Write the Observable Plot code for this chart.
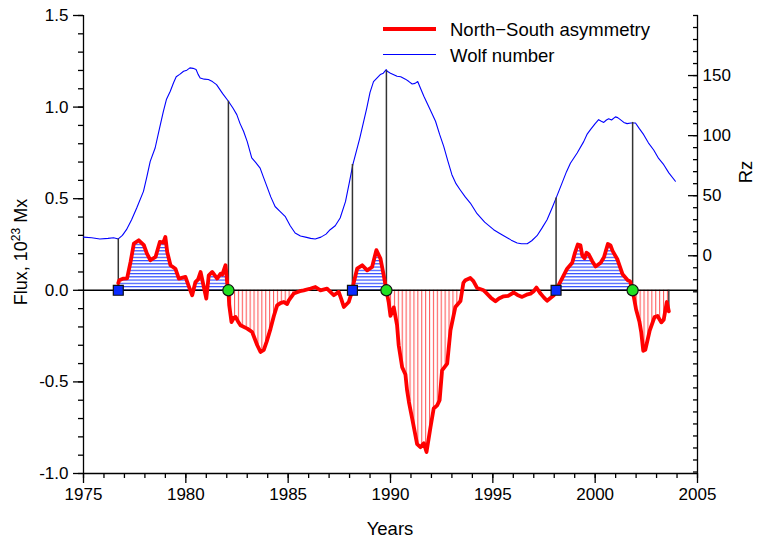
<!DOCTYPE html>
<html>
<head>
<meta charset="utf-8">
<script src="https://cdn.jsdelivr.net/npm/d3@7"></script>
<script src="https://cdn.jsdelivr.net/npm/@observablehq/plot@0.6"></script>
<style>
  html, body { margin: 0; padding: 0; background: white; }
  #chart svg { display: block; }
</style>
</head>
<body>
<div id="chart"></div>
<script>
// ---------- data ----------
// North–South asymmetry of magnetic flux (10^23 Mx)
const fluxYears = [
  1976.70,1976.75,1976.95,1977.13,1977.30,1977.46,1977.70,1977.95,1978.10,1978.27,
  1978.52,1978.73,1978.90,1979.00,1979.09,1979.25,1979.49,1979.66,1979.98,1980.15,
  1980.31,1980.47,1980.60,1980.72,1980.88,1981.00,1981.12,1981.29,1981.53,1981.70,
  1981.78,1981.94,1982.03,1982.08,1982.12,1982.23,1982.35,1982.43,1982.55,1982.67,
  1983.00,1983.24,1983.49,1983.65,1983.81,1983.95,1984.14,1984.30,1984.46,1984.62,
  1984.79,1984.95,1985.03,1985.27,1985.57,1985.76,1986.10,1986.33,1986.58,1986.90,
  1987.23,1987.47,1987.60,1987.72,1987.96,1988.14,1988.20,1988.37,1988.62,1988.86,
  1989.10,1989.31,1989.51,1989.67,1989.80,1989.91,1990.00,1990.16,1990.32,1990.40,
  1990.57,1990.73,1990.81,1990.90,1991.06,1991.30,1991.46,1991.63,1991.76,1991.95,
  1992.11,1992.28,1992.40,1992.52,1992.77,1992.93,1993.17,1993.42,1993.56,1993.66,
  1993.90,1994.05,1994.23,1994.55,1994.64,1994.90,1995.13,1995.30,1995.53,1995.75,
  1996.02,1996.20,1996.43,1996.70,1996.84,1997.00,1997.13,1997.33,1997.50,1997.65,
  1997.98,1998.09,1998.22,1998.38,1998.63,1998.88,1999.00,1999.15,1999.28,1999.37,
  1999.48,1999.58,1999.69,1999.85,2000.02,2000.27,2000.43,2000.62,2000.75,2000.85,
  2001.09,2001.34,2001.59,2001.70,2001.83,2002.00,2002.16,2002.25,2002.35,2002.45,
  2002.66,2002.90,2003.05,2003.23,2003.35,2003.50,2003.60
];
const fluxValues = [
  0.04,0.055,0.064,0.065,0.155,0.255,0.273,0.246,0.20,0.164,
  0.182,0.264,0.26,0.291,0.209,0.137,0.118,0.064,0.073,0.02,
  -0.027,0.045,0.06,0.10,0.018,-0.045,0.082,0.10,0.064,0.091,
  0.085,0.137,0.03,0,-0.082,-0.173,-0.15,-0.146,-0.17,-0.191,
  -0.209,-0.228,-0.30,-0.337,-0.325,-0.28,-0.209,-0.14,-0.082,-0.07,
  -0.064,-0.075,-0.055,-0.018,-0.005,0,0.01,0.018,0.0,0.009,
  -0.027,-0.009,-0.05,-0.091,-0.064,0,0.04,0.118,0.137,0.109,
  0.127,0.219,0.173,0.082,0,-0.064,-0.14,-0.093,-0.19,-0.30,
  -0.42,-0.46,-0.546,-0.61,-0.70,-0.84,-0.856,-0.835,-0.883,-0.75,
  -0.645,-0.628,-0.60,-0.437,-0.40,-0.219,-0.091,-0.058,0.04,0.055,
  0.067,0.05,0.013,0,-0.01,-0.04,-0.06,-0.045,-0.033,-0.03,
  -0.012,-0.025,-0.036,-0.022,-0.018,-0.005,0.015,-0.018,-0.04,-0.057,
  -0.027,0,0.03,0.064,0.118,0.15,0.20,0.25,0.245,0.19,
  0.175,0.205,0.195,0.16,0.13,0.15,0.18,0.253,0.245,0.215,
  0.168,0.087,0.055,0.05,0,-0.105,-0.17,-0.228,-0.33,-0.325,
  -0.222,-0.146,-0.14,-0.175,-0.16,-0.064,-0.115
];

// Smoothed Wolf number Rz
const wolfYears = [
  1975.0,1975.4,1975.8,1976.2,1976.47,1976.7,1976.9,1977.1,1977.35,1977.6,
  1977.93,1978.1,1978.26,1978.5,1978.7,1978.9,1979.05,1979.24,1979.4,1979.53,
  1979.7,1979.89,1980.05,1980.2,1980.35,1980.5,1980.6,1980.7,1980.9,1981.1,
  1981.3,1981.5,1981.8,1982.08,1982.3,1982.49,1982.65,1982.82,1983.0,1983.22,
  1983.4,1983.63,1983.8,1983.96,1984.15,1984.36,1984.6,1984.85,1985.1,1985.34,
  1985.6,1985.9,1986.1,1986.32,1986.6,1986.85,1987.05,1987.3,1987.54,1987.8,
  1988.0,1988.16,1988.5,1988.84,1989.0,1989.17,1989.5,1989.65,1989.79,1989.84,
  1990.0,1990.32,1990.5,1990.73,1990.9,1991.06,1991.2,1991.33,1991.45,1991.63,
  1991.9,1992.2,1992.4,1992.6,1992.8,1993.0,1993.2,1993.4,1993.65,1993.9,
  1994.23,1994.6,1995.04,1995.3,1995.53,1995.9,1996.19,1996.4,1996.68,1996.9,
  1997.16,1997.4,1997.65,1997.9,1998.09,1998.38,1998.6,1998.79,1999.12,1999.44,
  1999.6,1999.77,2000.0,2000.17,2000.3,2000.42,2000.55,2000.66,2000.8,2000.99,
  2001.1,2001.23,2001.4,2001.56,2001.75,2001.97,2002.15,2002.37,2002.6,2002.86,
  2003.1,2003.35,2003.6,2003.92
];
const wolfRz = [
  15.5,15,14,14.5,15,14,17,21.7,30,39.7,
  53.6,66,78.6,89.7,105,120,130,137,144,149,
  151,153.6,154.5,156.4,156,155,151,148,147,146.7,
  145,142.5,135,128.6,123,117.5,110,103.6,95,81.4,
  78,73,65,57.8,49,41,37,32.8,25,19,
  16.5,15.3,14.5,14,15.5,18,21.7,25,31.4,45,
  62,75.8,98,123,136,145,150.8,152,155,153.6,
  152,149.4,149,147,145,143,143.5,145,140,132.8,
  123,112,101,91,79,67.5,60,55,49,43.9,
  35,28,21.7,19,16.7,13,10.6,10,10,12.5,
  16.7,23,30,40,48,60.5,70,77,85.6,95,
  101,105,110,113.3,112,111,113,114,113,115.6,
  115,113.3,111,110,110.5,110.5,106,100.8,94,88,
  81,75.8,69,62
];

// Cycle markers: start of N-dominance (square) / reversal to S (circle)
const eventYears = [1976.7, 1982.08, 1988.14, 1989.8, 1998.09, 2001.83];
const eventRz    = [14, 128.6, 76, 154, 48, 111];
const eventKinds = ["square", "circle", "square", "circle", "square", "circle"];

// Hatched intervals
const northIntervals = [[1976.7, 1982.08], [1988.14, 1989.8], [1998.09, 2001.83]];
const southIntervals = [[1982.08, 1985.6], [1989.8, 1993.5], [2001.83, 2003.6]];

// Axis ticks
const xMajorTicks = [1975, 1980, 1985, 1990, 1995, 2000, 2005];
const yMajorTicks = [-1.0, -0.5, 0.0, 0.5, 1.0, 1.5];
const rzMajorTicks = [0, 50, 100, 150];

const legendLabels = ["North\u2212South asymmetry", "Wolf number"];

// ---------- helpers ----------
// Right axis (Rz) linear mapping onto the flux axis
const rzToFlux = r => 1.5 - (200 - r) / 152.5;
const fluxToRz = f => (f - 1.5) * 152.5 + 200;

const flux = fluxYears.map((year, i) => ({year, v: fluxValues[i]}));
const wolf = wolfYears.map((year, i) => ({year, rz: wolfRz[i]}));
const events = eventYears.map((year, i) => ({year, rz: eventRz[i], kind: eventKinds[i]}));

function segs(intervals, clampFn) {
  const out = [];
  intervals.forEach(([a, b], k) => {
    flux.filter(d => d.year >= a - 1e-9 && d.year <= b + 1e-9)
        .forEach(d => out.push({year: d.year, v: clampFn(d.v), seg: k}));
  });
  return out;
}
const northArea = segs(northIntervals, v => Math.max(v, 0));
const southArea = segs(southIntervals, v => Math.min(v, 0));

const xMinor = d3.range(1975, 2006, 1);
const yMinor = d3.range(-10, 16).map(d => d / 10);
const rzMinor = d3.range(-180, 201, 10);

const last = flux[flux.length - 1];

const chart = Plot.plot({
  width: 757,
  height: 542,
  marginLeft: 83,
  marginRight: 60,
  marginTop: 15,
  marginBottom: 69,
  x: {domain: [1975, 2005]},
  y: {domain: [-1, 1.5]},
  style: {fontFamily: "'Liberation Sans', Arial, sans-serif", fontSize: "17px", color: "black", background: "white"},
  marks: [
    // hatched areas
    Plot.areaY(northArea, {x: "year", y1: 0, y2: "v", z: "seg", fill: "url(#hatchN)", curve: "linear"}),
    Plot.areaY(southArea, {x: "year", y1: 0, y2: "v", z: "seg", fill: "url(#hatchS)", curve: "linear"}),
    // x axis
    Plot.axisX(xMajorTicks, {tickSize: 10, tickPadding: 4, tickFormat: d => String(d), label: null, stroke: "black", fill: "black", strokeWidth: 1.3}),
    Plot.axisX(xMinor, {tickSize: 5, fill: "none", label: null, stroke: "black", strokeWidth: 1.3}),
    // left y axis
    Plot.axisY(yMajorTicks, {tickSize: 10, tickPadding: 5, tickFormat: d => d.toFixed(1), label: null, stroke: "black", fill: "black", strokeWidth: 1.3}),
    Plot.axisY(yMinor, {tickSize: 5, fill: "none", label: null, stroke: "black", strokeWidth: 1.3}),
    // right Rz axis (ticks inward)
    Plot.axisY(rzMajorTicks.map(rzToFlux), {anchor: "right", tickSize: 0, tickPadding: 5, tickFormat: d => String(Math.round(fluxToRz(d))), label: null, fill: "black"}),
    Plot.axisY(rzMajorTicks.map(rzToFlux), {anchor: "right", tickSize: 10, dx: -10, fill: "none", label: null, stroke: "black", strokeWidth: 1.3}),
    Plot.axisY(rzMinor.map(rzToFlux), {anchor: "right", tickSize: 5, dx: -5, fill: "none", label: null, stroke: "black", strokeWidth: 1.3}),
    // frame lines
    Plot.ruleX([1975, 2005], {stroke: "black", strokeWidth: 1.3}),
    Plot.ruleY([-1], {stroke: "black", strokeWidth: 1.3}),
    Plot.ruleY([0], {stroke: "black", strokeWidth: 1.4}),
    // Wolf number
    Plot.line(wolf, {x: "year", y: d => rzToFlux(d.rz), stroke: "#0000ff", strokeWidth: 1.1}),
    // vertical markers
    Plot.ruleX(events, {x: "year", y1: 0, y2: d => rzToFlux(d.rz), stroke: "#333", strokeWidth: 1.5}),
    Plot.ruleX([last], {x: "year", y1: 0, y2: "v", stroke: "#222", strokeWidth: 1.3}),
    // asymmetry
    Plot.line(flux, {x: "year", y: "v", stroke: "#ff0000", strokeWidth: 3.8, strokeLinejoin: "round", strokeLinecap: "round"}),
    // markers
    Plot.dot(events.filter(d => d.kind === "square"), {x: "year", y: 0, symbol: "square", r: 5.6, fill: "#0a2bff", stroke: "#111", strokeWidth: 1.2}),
    Plot.dot(events.filter(d => d.kind === "circle"), {x: "year", y: 0, r: 5.6, fill: "#22e022", stroke: "#111", strokeWidth: 1.2})
  ]
});

const svg = d3.select(chart);
const defs = svg.insert("defs", ":first-child");
const pN = defs.append("pattern").attr("id", "hatchN").attr("patternUnits", "userSpaceOnUse")
  .attr("width", 8).attr("height", 3.25);
pN.append("line").attr("x1", 0).attr("x2", 8).attr("y1", 0.6).attr("y2", 0.6)
  .attr("stroke", "#1e3cff").attr("stroke-width", 1.1);
const pS = defs.append("pattern").attr("id", "hatchS").attr("patternUnits", "userSpaceOnUse")
  .attr("width", 3.9).attr("height", 8);
pS.append("line").attr("x1", 0.6).attr("x2", 0.6).attr("y1", 0).attr("y2", 8)
  .attr("stroke", "#ff4a4a").attr("stroke-width", 1);

const font = "'Liberation Sans', Arial, sans-serif";
// legend
const lg = svg.append("g").attr("font-family", font).attr("font-size", 18.5).attr("fill", "black").attr("text-anchor", "start");
lg.append("line").attr("x1", 383).attr("x2", 436).attr("y1", 29).attr("y2", 29).attr("stroke", "#ff0000").attr("stroke-width", 3.8);
lg.append("text").attr("x", 450).attr("y", 36).text(legendLabels[0]);
lg.append("line").attr("x1", 383).attr("x2", 436).attr("y1", 54.5).attr("y2", 54.5).attr("stroke", "#0000ff").attr("stroke-width", 1.1);
lg.append("text").attr("x", 450).attr("y", 61.5).text(legendLabels[1]);

// axis titles
svg.append("text").attr("x", 390).attr("y", 535).attr("text-anchor", "middle")
  .attr("font-family", font).attr("font-size", 18.5).text("Years");
svg.append("text").attr("transform", "translate(752,172) rotate(-90)").attr("text-anchor", "middle")
  .attr("font-family", font).attr("font-size", 18.5).text("Rz");
const yl = svg.append("text").attr("transform", "translate(27,252) rotate(-90)").attr("text-anchor", "middle")
  .attr("font-family", font).attr("font-size", 18);
yl.append("tspan").text("Flux, 10");
yl.append("tspan").attr("dy", -7).attr("font-size", 12).text("23");
yl.append("tspan").attr("dy", 7).text(" Mx");

document.getElementById("chart").appendChild(chart);
</script>
</body>
</html>
